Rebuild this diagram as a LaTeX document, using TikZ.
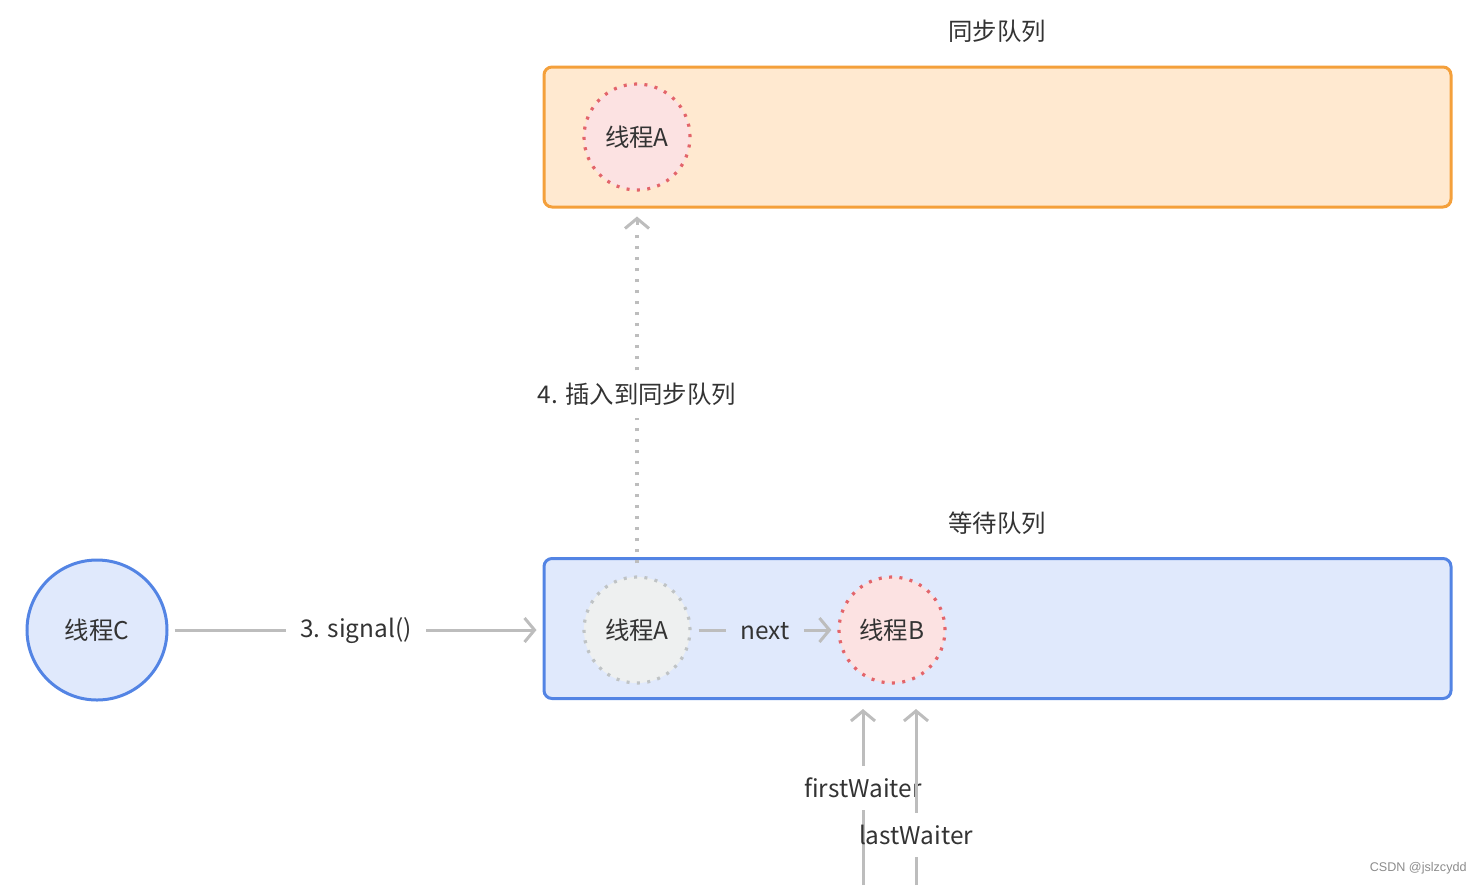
\documentclass[tikz,border=0pt]{standalone}
\usepackage{fontspec}
\setmainfont{Noto Sans CJK SC}
\newfontfamily\wmfont{Liberation Sans}
\usetikzlibrary{arrows.meta}
\definecolor{txt}{HTML}{333333}
\definecolor{conn}{HTML}{BDBDBD}
\definecolor{orfill}{HTML}{FFE9D0}
\definecolor{ordraw}{HTML}{F4A03B}
\definecolor{blfill}{HTML}{E0E9FC}
\definecolor{bldraw}{HTML}{5384E4}
\definecolor{pkfill}{HTML}{FCE2E2}
\definecolor{pkdraw}{HTML}{E3646A}
\definecolor{gyfill}{HTML}{EEF0F0}
\definecolor{gydraw}{HTML}{BFC3C5}
\tikzset{
  every node/.style={text=txt, font=\fontsize{12.2}{14}\selectfont},
  queuebox/.style={draw, line width=1.5pt, rounded corners=4pt, minimum width=453.5pt, minimum height=70pt},
  dotcircle/.style={circle, draw, line width=1.6pt, dash pattern=on 1.5pt off 3.7pt, minimum size=53pt, inner sep=0pt},
  lbl/.style={inner xsep=7pt, inner ysep=6pt},
  conline/.style={draw=conn, line width=1.5pt},
  dotline/.style={draw=conn, line width=1.6pt, dash pattern=on 1.5pt off 4pt},
  arr/.style={conline, -{Straight Barb[length=5pt,width=12pt]}},
}
\begin{document}
\begin{tikzpicture}[x=0.5pt,y=-0.5pt]
\useasboundingbox (0,0) rectangle (1482,885);
% queues
\node[queuebox, draw=ordraw, fill=orfill] (sync) at (997.5,137) {};
\node[queuebox, draw=bldraw, fill=blfill] (wait) at (997.5,628.5) {};
\node (synct) at (997,31) {同步队列};
\node (waitt) at (997,523) {等待队列};
% threads
\node[dotcircle, draw=pkdraw, fill=pkfill] (A1) at (637,137) {线程A};
\node[dotcircle, draw=gydraw, fill=gyfill] (A2) at (637,630) {线程A};
\node[dotcircle, draw=pkdraw, fill=pkfill] (B) at (892,630) {线程B};
\node[circle, draw=bldraw, fill=blfill, line width=1.5pt, minimum size=70pt, inner sep=0pt] (C) at (97,630) {线程C};
% signal
\node[lbl] (sig) at (356,631) {3. signal()};
\draw[conline, shorten <=3pt] (C.east) -- (C.east -| sig.west);
\draw[arr, shorten >=3pt] (sig.east |- C) -- (wait.west |- C);
% next
\node[lbl] (nxt) at (765,631) {next};
\draw[conline, shorten <=3.5pt] (A2.east) -- (A2.east -| nxt.west);
\draw[arr, shorten >=3pt] (nxt.east |- A2) -- (B);
% insert to sync queue
\node[lbl] (ins) at (637,394) {4. 插入到同步队列};
\draw[dotline, shorten <=6pt] (A2.north) -- (ins);
\draw[dotline] (ins) -- ([yshift=-12pt]A1 |- sync.south);
\draw[conline, -{Straight Barb[length=5pt,width=12pt]}, shorten >=4pt] ([yshift=-8pt]A1 |- sync.south) -- (A1 |- sync.south);
% waiters
\coordinate (fw0) at (863,885);
\coordinate (lw0) at (916,885);
\node[lbl] (fw) at (863,788) {firstWaiter};
\draw[conline] (fw0) -- (fw);
\draw[arr, shorten >=4.5pt] (fw) -- (fw |- wait.south);
\node[lbl] (lw) at (916,835) {lastWaiter};
\draw[conline] (lw0) -- (lw);
\draw[arr, shorten >=4.5pt] (lw) -- (lw |- wait.south);
% watermark
\node[font=\wmfont\fontsize{6.3}{8}\selectfont, text=black!45, anchor=east, inner sep=0pt] (wm) at (1467,868) {CSDN @jslzcydd};
\end{tikzpicture}
\end{document}
